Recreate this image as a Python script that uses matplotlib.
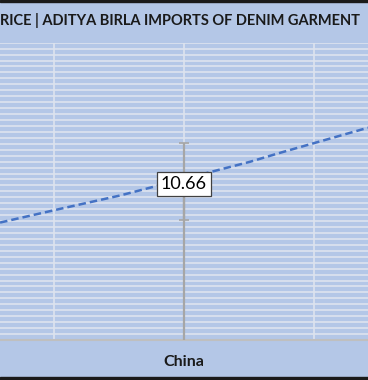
import matplotlib
matplotlib.use("Agg")
import matplotlib.pyplot as plt
import numpy as np

# Data
categories = ["China"]
values = [10.66]
error = [2.6]
trend_x = [-1.415, -0.954, -0.492, 0.0, 0.508, 0.738, 1.415]
trend_y = [7.90, 8.82, 9.72, 10.84, 11.99, 12.59, 14.28]
title = "RICE | ADITYA BIRLA IMPORTS OF DENIM GARMENT"

BG = "#B4C7E7"
GRID = "#DDE3EF"

fig = plt.figure(figsize=(3.68, 3.80), dpi=100)
fig.patch.set_facecolor(BG)

ax = fig.add_axes([0, 40/380, 1, (340-42.7)/380])
ax.set_facecolor(BG)
ax.set_xlim(-184/130, 184/130)
ax.set_ylim(0, 20)

# horizontal gridlines
for y in np.arange(0.4, 20.01, 0.4):
    ax.axhline(y, color=GRID, lw=1.2, zorder=1)
# vertical gridlines
for x in [-1, 0, 1]:
    ax.axvline(x, color=GRID, lw=1.2, zorder=1)
ax.axhline(0, color="#BFBFBF", lw=1.5, zorder=2, clip_on=False)

xs = np.arange(len(categories))
# drop line
for x, v in zip(xs, values):
    ax.plot([x, x], [0, v], color="#A6A6A6", lw=1.6, zorder=3)
ax.errorbar(xs, values, yerr=error, fmt="none", ecolor="#A6A6A6",
            elinewidth=1.6, capsize=3.5, capthick=1.2, zorder=3)

ax.plot(trend_x, trend_y, color="#4472C4", lw=1.8, ls=(0, (3, 1.6)), zorder=4)

for x, v in zip(xs, values):
    ax.text(x, v - 0.15, f"{v:.2f}", ha="center", va="center", fontsize=13,
            family="Lato", color="black", zorder=6,
            bbox=dict(boxstyle="square,pad=0.22", fc="white", ec="#404040", lw=0.9))

for s in ax.spines.values():
    s.set_visible(False)
ax.set_xticks([])
ax.set_yticks([])

for x, c in zip(xs, categories):
    fig.text((184 + x*130)/368, 1 - 362/380, c, ha="center", va="center",
             fontsize=11.5, fontweight="bold", family="Lato", color="#1a1a1a")

fig.text(0.5/368, 1 - 21/380, title, ha="left", va="center", fontsize=10.55,
         fontweight="bold", family="Lato", color="#1a1a1a")

# dark borders top & bottom
fig.patches.append(plt.Rectangle((0, 1 - 2/380), 1, 2/380, transform=fig.transFigure,
                                 color="#1b1b1b", zorder=10))
fig.patches.append(plt.Rectangle((0, 0), 1, 3/380, transform=fig.transFigure,
                                 color="#1b1b1b", zorder=10))

fig.savefig("out.png", dpi=100, facecolor=BG)
